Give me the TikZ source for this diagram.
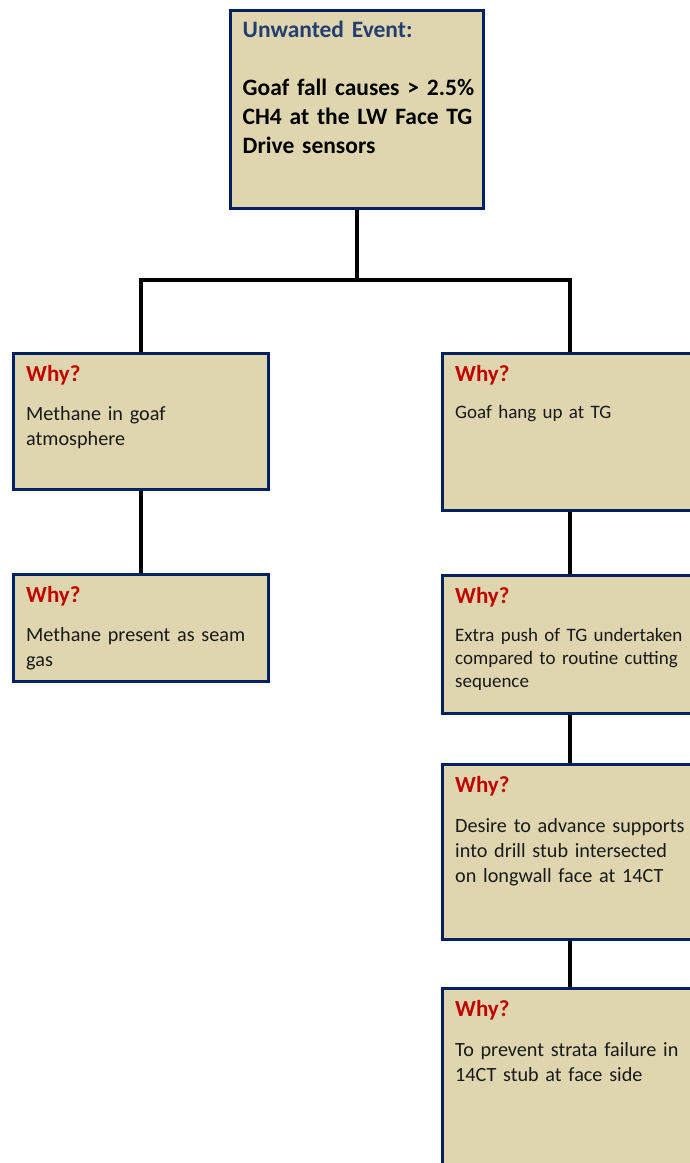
\documentclass[tikz,border=0pt]{standalone}
\usepackage{fontspec}
\setmainfont{Carlito}
\usepackage{xcolor}
\definecolor{boxtan}{RGB}{223,214,176}
\definecolor{boxblue}{RGB}{0,32,96}
\definecolor{whyred}{RGB}{192,0,0}
\definecolor{eventblue}{RGB}{36,62,112}
\definecolor{bodygray}{RGB}{25,25,25}
\newcommand{\whyhead}{{\color{whyred}\bfseries\fontsize{23}{28}\selectfont Why?}\par}
\usetikzlibrary{calc}
\usetikzlibrary{positioning}

\begin{document}
\begin{tikzpicture}[x=1pt, y=1pt,
    whybox/.style={draw=boxblue, line width=3pt, fill=boxtan, outer sep=0pt,
      inner sep=0pt, anchor=north west, minimum width=255},
    cutbox/.style={whybox, minimum width=300},
    whytext/.style={anchor=base west, inner sep=0pt, align=left,
      text width=240pt, text=bodygray},
    bodylarge/.style={font=\fontsize{20.2}{25}\selectfont},
    bodysmall/.style={font=\fontsize{19}{23}\selectfont},
    link/.style={line width=4.5pt, black, shorten <=1.5pt, shorten >=1.5pt}]

    \useasboundingbox (0,0) rectangle (689,-1163);

    \node [whybox, minimum width=253, minimum height=198] (event)
    at (230.5,-10.5) {};
    \node [whytext, text=black, font=\bfseries\fontsize{23.5}{29}\selectfont]
    (eventtext) at ([shift={(12,-26.5)}]event.north west)
    {\textcolor{eventblue}{Unwanted Event:}\\[29pt]
      Goaf fall causes > 2.5\%\\CH4 at the LW Face TG\\Drive sensors};

    \node [whybox, minimum height=136] (l1) at (13.5,-353.5) {};
    \node [whytext, bodylarge] (l1text)
    at ([shift={(12.5,-27.5)}]l1.north west)
    {\whyhead\vspace{14pt}Methane in goaf\\atmosphere};

    \node [whybox, minimum height=107] (l2) at (13.5,-574.5) {};
    \node [whytext, bodylarge] (l2text)
    at ([shift={(12.5,-27.5)}]l2.north west)
    {\whyhead\vspace{14pt}Methane present as seam\\gas};

    % right column runs off the page edge
    \node [cutbox, minimum height=157] (r1) at (442.5,-353.5) {};
    \node [whytext, bodysmall] (r1text)
    at ([shift={(12.5,-28)}]r1.north west)
    {\whyhead\vspace{14pt}Goaf hang up at TG};

    \node [cutbox, minimum height=138] (r2) at (442.5,-575.5) {};
    \node [whytext, bodysmall] (r2text)
    at ([shift={(12.5,-27.5)}]r2.north west)
    {\whyhead\vspace{15pt}Extra push of TG undertaken\\
      compared to routine cutting\\sequence};

    \node [cutbox, minimum height=175] (r3) at (442.5,-764.5) {};
    \node [whytext, bodylarge] (r3text)
    at ([shift={(12.5,-27.5)}]r3.north west)
    {\whyhead\vspace{15pt}Desire to advance supports\\
      into drill stub intersected\\on longwall face at 14CT};

    \node [cutbox, minimum height=220] (r4) at (442.5,-988.5) {};
    \node [whytext, bodylarge] (r4text)
    at ([shift={(12.5,-27.5)}]r4.north west)
    {\whyhead\vspace{15pt}To prevent strata failure in\\
      14CT stub at face side};

    \coordinate (split) at ($(event.south)+(0,-71.5)$);

    \draw [link, shorten >=0pt] (event.south) -- (split);
    \draw [link] (l1.north) |- (split) -| ([xshift=127.5]r1.north west);
    \draw [link] (l1.south) -- (l2.north);
    \draw [link] ([xshift=127.5]r1.south west) -- ([xshift=127.5]r2.north west);
    \draw [link] ([xshift=127.5]r2.south west) -- ([xshift=127.5]r3.north west);
    \draw [link] ([xshift=127.5]r3.south west) -- ([xshift=127.5]r4.north west);

\end{tikzpicture}
\end{document}
